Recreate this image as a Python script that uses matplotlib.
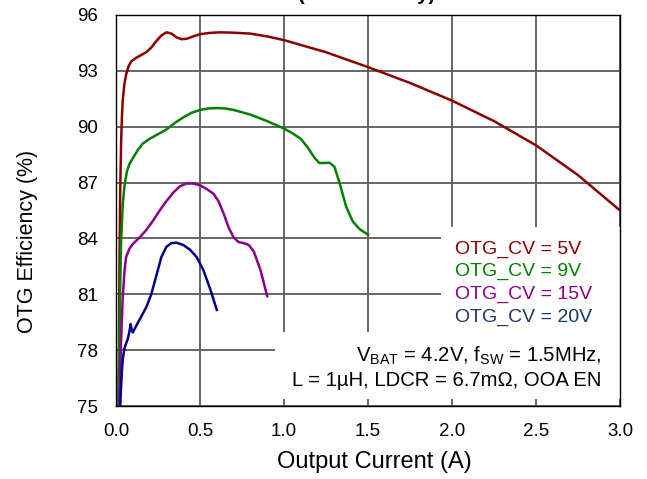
import matplotlib
matplotlib.use("Agg")
import matplotlib.pyplot as plt
from matplotlib.patches import Rectangle

plt.rcParams['font.family'] = ['Liberation Sans', 'DejaVu Sans']
plt.rcParams['mathtext.fontset'] = 'custom'
plt.rcParams['mathtext.rm'] = 'Liberation Sans'

# OTG_CV = 5V
i_5v = [0.015, 0.018, 0.021, 0.025, 0.03, 0.035, 0.04, 0.05, 0.06, 0.075, 0.09, 0.12, 0.15,
        0.18, 0.21, 0.24, 0.27, 0.3, 0.33, 0.36, 0.39, 0.42, 0.46, 0.5, 0.56, 0.62, 0.7,
        0.8, 0.9, 1.0, 1.25, 1.5, 1.75, 2.0, 2.25, 2.5, 2.75, 3.0]
eff_5v = [75.0, 79.0, 83.0, 86.5, 89.0, 90.5, 91.4, 92.3, 92.8, 93.25, 93.5, 93.7, 93.85,
          94.0, 94.25, 94.6, 94.9, 95.07, 95.0, 94.8, 94.7, 94.72, 94.85, 94.97, 95.04, 95.07, 95.05,
          95.0, 94.85, 94.65, 94.0, 93.2, 92.35, 91.4, 90.3, 89.0, 87.4, 85.5]

# OTG_CV = 9V
i_9v = [0.015, 0.02, 0.025, 0.03, 0.04, 0.05, 0.065, 0.08, 0.1, 0.13, 0.16, 0.2, 0.25, 0.3,
        0.35, 0.4, 0.45, 0.5, 0.55, 0.6, 0.65, 0.7, 0.8, 0.9, 1.0, 1.05, 1.1, 1.14, 1.18,
        1.21, 1.24, 1.27, 1.3, 1.33, 1.37, 1.41, 1.45, 1.5]
eff_9v = [75.0, 78.5, 81.5, 83.8, 85.8, 86.8, 87.6, 88.0, 88.3, 88.75, 89.1, 89.35, 89.6, 89.85,
          90.2, 90.5, 90.75, 90.9, 90.98, 91.0, 90.98, 90.9, 90.65, 90.3, 89.9, 89.65, 89.35, 88.9,
          88.35, 88.05, 88.05, 88.07, 87.85, 87.0, 85.7, 84.9, 84.5, 84.2]

# OTG_CV = 15V
i_15v = [0.02, 0.025, 0.03, 0.04, 0.05, 0.06, 0.08, 0.1, 0.14, 0.18, 0.22, 0.26, 0.3, 0.34,
         0.38, 0.42, 0.46, 0.5, 0.54, 0.58, 0.61, 0.64, 0.67, 0.7, 0.73, 0.76, 0.79, 0.82,
         0.86, 0.9]
eff_15v = [75.0, 76.8, 78.5, 80.8, 82.2, 83.0, 83.45, 83.7, 84.05, 84.45, 84.95, 85.5, 86.0, 86.45,
           86.8, 86.95, 86.95, 86.85, 86.65, 86.4, 86.0, 85.35, 84.6, 84.05, 83.8, 83.75, 83.65, 83.3,
           82.3, 80.9]

# OTG_CV = 20V
i_20v = [0.025, 0.03, 0.035, 0.04, 0.05, 0.06, 0.07, 0.08, 0.087, 0.093, 0.1, 0.12, 0.15,
         0.18, 0.21, 0.24, 0.27, 0.3, 0.33, 0.36, 0.4, 0.44, 0.48, 0.52, 0.56, 0.6]
eff_20v = [75.0, 76.0, 76.9, 77.5, 78.1, 78.35, 78.6, 79.0, 79.4, 79.1, 78.95, 79.3, 79.8,
           80.3, 81.0, 82.0, 83.0, 83.55, 83.75, 83.77, 83.65, 83.4, 83.0, 82.3, 81.3, 80.16]

labels = ['OTG_CV = 5V', 'OTG_CV = 9V', 'OTG_CV = 15V', 'OTG_CV = 20V']
colors = ['#8B0000', '#008000', '#8B008B', '#00008B']
text_colors = ['#8B0000', '#008000', '#8B008B', '#17376B']

x_ticks = [0.0, 0.5, 1.0, 1.5, 2.0, 2.5, 3.0]
y_ticks = [75, 78, 81, 84, 87, 90, 93, 96]

fig = plt.figure(figsize=(6.47, 4.79), dpi=100)
ax = fig.add_axes([0.1793, 0.1524, 0.779, 0.8163])

series = [(i_5v, eff_5v), (i_9v, eff_9v), (i_15v, eff_15v), (i_20v, eff_20v)]
for (xs, ys), c in zip(series, colors):
    ax.plot(xs, ys, color=c, lw=1.8, zorder=4, solid_joinstyle='round')

ax.set_xlim(0, 3.0)
ax.set_ylim(75, 96)
ax.set_xticks(x_ticks)
ax.set_xticklabels([f'{v:.1f}' for v in x_ticks])
ax.set_yticks(y_ticks)
ax.grid(True, color='#5a5a5a', lw=1.3, zorder=1)
ax.set_axisbelow(True)
ax.tick_params(length=0, labelsize=13.5)
ax.tick_params(axis='x', pad=12)
ax.tick_params(axis='y', pad=13)
for s in ax.spines.values():
    s.set_linewidth(1.0)
    s.set_zorder(5)

# white boxes behind legend and conditions text
ax.add_patch(Rectangle((0.645, 0.189), 0.355, 0.269, transform=ax.transAxes,
                       facecolor='white', edgecolor='none', zorder=2))
ax.add_patch(Rectangle((0.315, 0.018), 0.685, 0.172, transform=ax.transAxes,
                       facecolor='white', edgecolor='none', zorder=2))

leg_y = [0.3898, 0.3323, 0.2747, 0.2159]
for lab, c, yy in zip(labels, text_colors, leg_y):
    ax.text(0.6726, yy, lab, color=c, fontsize=14, transform=ax.transAxes,
            ha='left', va='baseline', zorder=6)

ax.text(0.9637, 0.1133, r'V$_{\mathrm{BAT}}$ = 4.2V, f$_{\mathrm{SW}}$ = 1.5MHz,',
        fontsize=14.6, transform=ax.transAxes, ha='right', va='baseline', zorder=6)
ax.text(0.9637, 0.0512, 'L = 1µH, LDCR = 6.7mΩ, OOA EN',
        fontsize=14.6, transform=ax.transAxes, ha='right', va='baseline', zorder=6)

ax.set_xlabel('Output Current (A)', fontsize=17)
ax.set_ylabel('OTG Efficiency (%)', fontsize=15.5)
ax.xaxis.set_label_coords(0.513, -0.116)
ax.yaxis.set_label_coords(-0.155, 0.42)

fig.text(0.567, 1.0, '(1S1P Battery)', ha='center', va='baseline',
         fontsize=14.5, weight='bold')

fig.savefig('out.png', dpi=100)
